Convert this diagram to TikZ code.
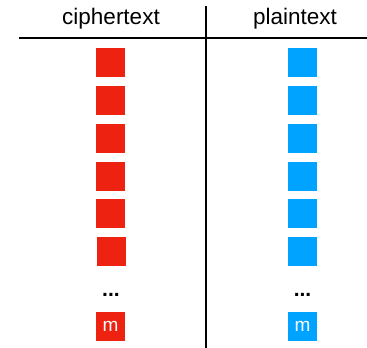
\documentclass[tikz,border=0pt]{standalone}
\usepackage{fontspec}
\setmainfont{Liberation Sans}
\definecolor{cred}{RGB}{238,34,17}
\definecolor{cblue}{RGB}{0,163,255}
\begin{document}
\begin{tikzpicture}[x=1pt,y=-1pt,
  block/.style={minimum width=29pt,minimum height=29pt,inner sep=0pt,outer sep=0pt,
    text=white,font=\fontsize{19}{19}\selectfont},
  redblock/.style={block,fill=cred},
  blueblock/.style={block,fill=cblue},
  head/.style={font=\fontsize{22.5}{22.5}\selectfont,inner sep=0pt},
  dots/.style={font=\bfseries\fontsize{21}{21}\selectfont,inner sep=0pt},
  rule/.style={line width=2.6pt,black}]
\useasboundingbox (0,0) rectangle (367,348);
% column headings
\node[head] (hc) at (111,19) {ciphertext};
\node[head] (hp) at (295,19) {plaintext};
% table rules
\coordinate (hl) at (19,38);
\coordinate (hr) at (367,38);
\coordinate (vt) at (206,6);
\coordinate (vb) at (206,348);
\draw[rule] (hl) -- (hr);
\draw[rule] (vt) -- (vb);
% blocks in both columns
\foreach \i/\y in {1/62.5,2/100.5,3/138.5,4/176,5/213.5} {
  \node[redblock] (c\i) at (110.5,\y) {};
  \node[blueblock] (p\i) at (302.5,\y) {};
}
\node[redblock] (c6) at (111.5,251) {};
\node[blueblock] (p6) at (302.5,251) {};
\node[dots] (cd) at (111,295) {...};
\node[dots] (pd) at (302.5,295) {...};
\node[redblock] (cm) at (110.5,326.5) {\raisebox{-1.5pt}{m}};
\node[blueblock] (pm) at (302.5,326.5) {\raisebox{-1.5pt}{m}};
\end{tikzpicture}
\end{document}
